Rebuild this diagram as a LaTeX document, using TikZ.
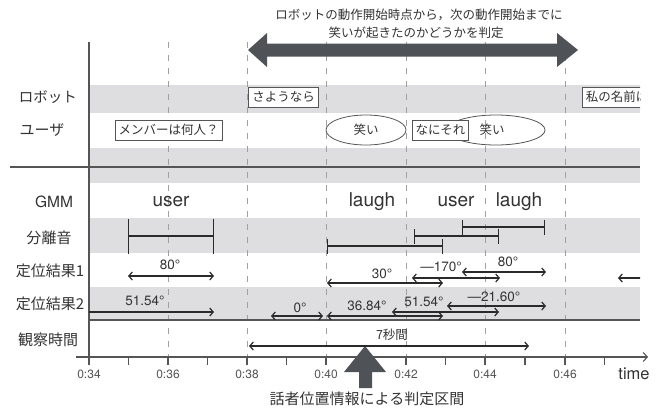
\documentclass[tikz,border=0pt]{standalone}
\usepackage{fontspec}
\setmainfont{Noto Sans CJK JP}
\newfontfamily\latinf{TeX Gyre Heros}
\usetikzlibrary{arrows.meta,shapes.geometric}
\definecolor{band}{HTML}{DEDEE0}
\definecolor{dark}{HTML}{4F5358}
\definecolor{ink}{HTML}{2A2A2A}
\definecolor{txt}{HTML}{333333}
\definecolor{dashc}{HTML}{A0A0A0}
\definecolor{axisc}{HTML}{555555}
\tikzset{
  rowlabel/.style={text=txt,font=\fontsize{15}{17}\selectfont,inner sep=0},
  boxnode/.style={draw=axisc,line width=0.8pt,fill=white,text=txt,font=\fontsize{12.5}{14}\selectfont,inner xsep=3.5pt,inner ysep=0,minimum height=20pt},
  ellnode/.style={ellipse,draw=axisc,line width=0.8pt,text=txt,font=\fontsize{12.5}{14}\selectfont,inner sep=0},
  gmmtext/.style={text=txt,font=\latinf\fontsize{19}{21}\selectfont,inner sep=0},
  deglabel/.style={text=txt,font=\latinf\fontsize{13.5}{15}\selectfont,inner sep=0},
  cjklabel/.style={text=txt,font=\fontsize{12.5}{14}\selectfont,inner sep=0},
  ticklabel/.style={text=axisc,font=\latinf\fontsize{12}{14}\selectfont,inner sep=0},
  guide/.style={dashc,line width=0.8pt,dash pattern=on 6pt off 7pt},
  sepbar/.style={ink,line width=1.2pt,{Bar[width=15pt]}-{Bar[width=15pt]}},
  darr/.style={ink,line width=1.2pt,{Straight Barb[length=3.5pt,width=8pt]}-{Straight Barb[length=3.5pt,width=8pt]}},
  rarr/.style={ink,line width=1.2pt,-{Straight Barb[length=3.5pt,width=8pt]}},
  larr/.style={ink,line width=1.2pt,{Straight Barb[length=3.5pt,width=8pt]}-},
  bigarrow/.style={fill=dark,draw=none}
}
\begin{document}
\begin{tikzpicture}[x=1pt,y=-1pt]
\useasboundingbox (0,0) rectangle (664,410);
% bands
\fill[band] (89,85) rectangle (640,113);
\fill[band] (89,148) rectangle (640,183);
\fill[band] (89,218) rectangle (640,253);
\fill[band] (89,287) rectangle (640,320);
% guide lines
\foreach \gx in {168,247,326,406,485,565}{
  \draw[guide] (\gx,42) -- (\gx,357);
}
% frame lines
\draw[axisc,line width=1.3pt] (89,42) -- (89,357);
\draw[axisc,line width=1.3pt] (10,167) -- (640,167);
\draw[axisc,line width=1.3pt] (89,320) -- (640,320);
% time axis
\coordinate (ax0) at (76,357);
\coordinate (ax1) at (648,357);
\draw[axisc,line width=1.1pt,-{Straight Barb[length=4pt,width=9pt]}] (ax0) -- (ax1);
\foreach \tx in {89,128.5,168,207.5,247,286.5,326,366,406,445.5,485,525,565,604.5}{
  \draw[axisc,line width=1.1pt] (\tx,357) -- (\tx,365);
}
\foreach \tx/\tl in {89/0:34,168/0:36,247/0:38,326/0:40,406/0:42,485/0:44,565/0:46}{
  \node[ticklabel] at (\tx,374) {\tl};
}
\node[gmmtext,font=\latinf\fontsize{16.5}{18}\selectfont] (timelbl) at (634,374) {time};
% top big arrow
\fill[bigarrow] (248,50) -- (267,33) -- (267,43.5) -- (557,43.5) -- (557,33) -- (578,50) -- (557,67) -- (557,56.5) -- (267,56.5) -- (267,67) -- cycle;
\node[cjklabel] (top1) at (419,15) {ロボットの動作開始時点から，次の動作開始までに};
\node[cjklabel] (top2) at (416,33) {笑いが起きたのかどうかを判定};
% bottom big arrow
\fill[bigarrow] (365,346) -- (386,372) -- (372,372) -- (372,388) -- (359,388) -- (359,372) -- (344,372) -- cycle;
\node[rowlabel] (bottomtxt) at (367,399) {話者位置情報による判定区間};
% row labels
\node[rowlabel,font=\fontsize{14.5}{17}\selectfont] (lrobot) at (48,97) {ロボット};
\node[rowlabel] (luser) at (42,130) {ユーザ};
\node[rowlabel,font=\latinf\fontsize{15.5}{17}\selectfont] (lgmm) at (54,202) {GMM};
\node[rowlabel] (lsep) at (49,238) {分離音};
\node[rowlabel] (lloc1) at (50,271) {定位結果1};
\node[rowlabel] (lloc2) at (50,304) {定位結果2};
\node[rowlabel] (lobs) at (48,340) {観察時間};
% robot / user utterances
\node[boxnode] (sayonara) at (283.5,97) {さようなら};
\begin{scope}
\clip (0,0) rectangle (640,410);
\node[boxnode,anchor=west] (namae) at (582,97) {私の名前は};
\coordinate (r1e0) at (618,278);
\coordinate (r1e1) at (650,278);
\draw[larr] (r1e0) -- (r1e1);
\end{scope}
\node[boxnode] (member) at (168.5,130) {メンバーは何人？};
\node[ellnode,minimum width=80pt,minimum height=30pt] (warai1) at (366,130) {笑い};
\node[ellnode,minimum width=98pt,minimum height=30pt] (warai2) at (496,130) {\hspace*{-8pt}笑い};
\node[boxnode] (nanisore) at (440.5,130) {なにそれ};
% GMM
\node[gmmtext] (g1) at (171,202) {user};
\node[gmmtext] (g2) at (372,202) {laugh};
\node[gmmtext] (g3) at (456,202) {user};
\node[gmmtext] (g4) at (519,202) {laugh};
% separated sounds
\coordinate (s1a) at (128,236); \coordinate (s1b) at (214,236);
\draw[ink,line width=1.2pt,{Bar[width=35pt]}-{Bar[width=35pt]}] (s1a) -- (s1b);
\coordinate (s2a) at (327,246); \coordinate (s2b) at (443,246);
\draw[sepbar] (s2a) -- (s2b);
\coordinate (s3a) at (414,236); \coordinate (s3b) at (499,236);
\draw[sepbar] (s3a) -- (s3b);
\coordinate (s4a) at (462,227); \coordinate (s4b) at (545,227);
\draw[sepbar] (s4a) -- (s4b);
% localization result 1
\coordinate (r1a0) at (128,276); \coordinate (r1a1) at (214,276);
\draw[darr] (r1a0) -- (r1a1);
\node[deglabel] (d1a) at (170,265) {80°};
\coordinate (r1b0) at (327,283); \coordinate (r1b1) at (443,283);
\draw[darr] (r1b0) -- (r1b1);
\node[deglabel] (d1b) at (382,274) {30°};
\coordinate (r1c0) at (412,278); \coordinate (r1c1) at (500,278);
\draw[darr] (r1c0) -- (r1c1);
\node[deglabel] (d1c) at (441,267) {—170°};
\coordinate (r1d0) at (462,272); \coordinate (r1d1) at (546,272);
\draw[darr] (r1d0) -- (r1d1);
\node[deglabel] (d1d) at (508,262) {80°};
% localization result 2
\coordinate (r2a0) at (89,312); \coordinate (r2a1) at (214,312);
\draw[rarr] (r2a0) -- (r2a1);
\node[deglabel] (d2a) at (145,301) {51.54°};
\coordinate (r2b0) at (271,316); \coordinate (r2b1) at (323,316);
\draw[darr] (r2b0) -- (r2b1);
\node[deglabel] (d2b) at (300,308) {0°};
\coordinate (r2c0) at (327,316); \coordinate (r2c1) at (443,316);
\draw[darr] (r2c0) -- (r2c1);
\node[deglabel] (d2c) at (367,306) {36.84°};
\coordinate (r2d0) at (392,312); \coordinate (r2d1) at (499,312);
\draw[darr] (r2d0) -- (r2d1);
\node[deglabel] (d2d) at (424,302) {51.54°};
\coordinate (r2e0) at (447,306); \coordinate (r2e1) at (546,306);
\draw[darr] (r2e0) -- (r2e1);
\node[deglabel] (d2e) at (494,297) {—21.60°};
% observation time
\coordinate (o0) at (249,346); \coordinate (o1) at (529,346);
\draw[darr] (o0) -- (o1);
\node[cjklabel] (obslbl) at (392,335) {7秒間};
\end{tikzpicture}
\end{document}
